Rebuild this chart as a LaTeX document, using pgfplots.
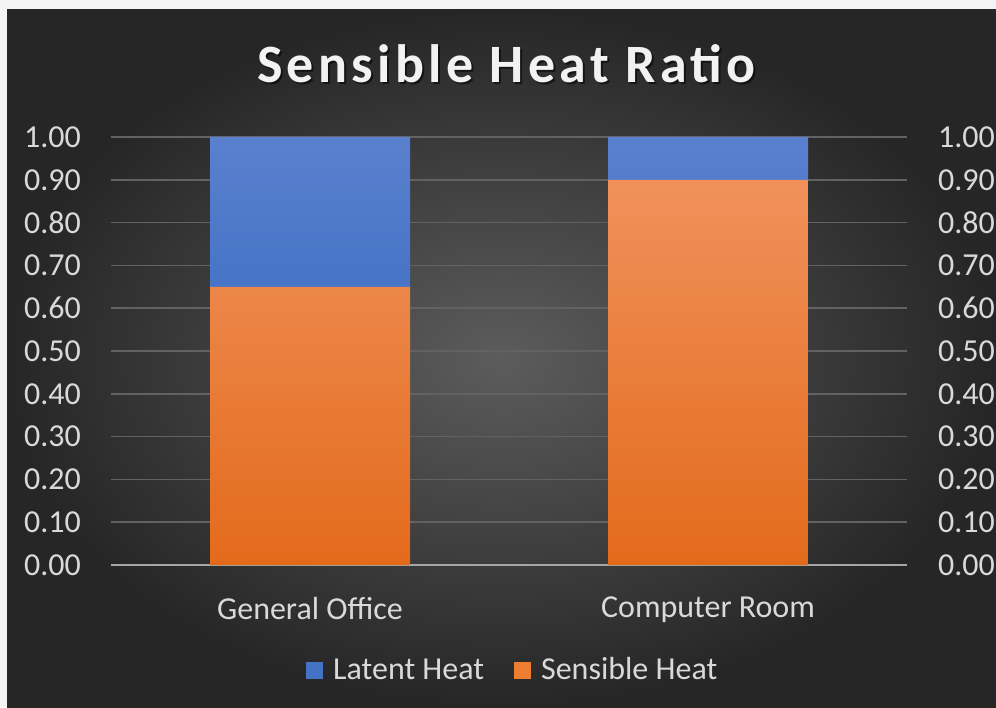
\documentclass[border=0pt]{standalone}
\usepackage{pgfplots}
\pgfplotsset{compat=1.18}
\usepackage{fontspec}
\setmainfont{Carlito}
\newfontfamily\titlefont[LetterSpace=8]{Carlito}
\definecolor{bgdark}{HTML}{262626}
\definecolor{bgmid}{HTML}{5C5C5C}
\definecolor{pagebg}{HTML}{F3F3F3}
\definecolor{gridcol}{HTML}{626262}
\definecolor{axiscol}{HTML}{A6A6A6}
\definecolor{labcol}{HTML}{D9D9D9}
\definecolor{titcol}{HTML}{F2F2F2}
\definecolor{orTop}{HTML}{F0915B}
\definecolor{orBot}{HTML}{E36A1B}
\definecolor{blTop}{HTML}{5A80CE}
\definecolor{blBot}{HTML}{4674C6}
\definecolor{orLeg}{HTML}{ED7D31}
\definecolor{blLeg}{HTML}{4472C4}
\pgfplotstableread{
x sensible latent
0 0.65 0.35
1 0.90 0.10
}\shrdata
\pgfplotsset{
  numfmt/.style={/pgf/number format/fixed, /pgf/number format/fixed zerofill,
    /pgf/number format/precision=2, /pgf/number format/assume math mode=true},
}
\begin{document}
\begin{tikzpicture}[x=1pt,y=1pt]
\fill[pagebg] (0,0) rectangle (498,353.5);
\shade[inner color=bgmid, outer color=bgdark] (3.5,0) rectangle (498,348.5);
\node[anchor=base, text=black, opacity=0.55, inner sep=0] at (254.2,311.0) {\titlefont\bfseries\fontsize{27}{32}\selectfont Sensible Heat Ratio};
\node[anchor=base, text=titcol, inner sep=0] at (253.2,312) {\titlefont\bfseries\fontsize{27}{32}\selectfont Sensible Heat Ratio};
\begin{axis}[
  at={(55.5pt,71pt)}, anchor=south west, scale only axis,
  width=398pt, height=214pt,
  xmin=-0.5, xmax=1.5, ymin=0, ymax=1,
  ybar stacked, bar width=100pt,
  xtick={0,1}, xticklabels={General Office, Computer Room},
  ytick={0,0.1,0.2,0.3,0.4,0.5,0.6,0.7,0.8,0.9,1.0},
  numfmt,
  ticklabel style={font=\fontsize{16}{19}\selectfont, text=labcol},
  yticklabel style={xshift=-11.5pt},
  xticklabel style={yshift=-12.5pt},
  axis line style={draw=none},
  tick style={draw=none},
  ymajorgrids, grid style={gridcol, line width=0.8pt},
  extra y ticks={0}, extra y tick labels={},
  extra y tick style={grid style={axiscol, line width=0.9pt}},
  legend columns=2,
  legend style={at={(0.506,-0.246)}, anchor=center, draw=none, fill=none,
    font=\fontsize{16}{19}\selectfont, text=labcol,
    /tikz/every odd column/.append style={column sep=3pt},
    /tikz/every even column/.append style={column sep=13pt}},
  legend image code/.code={\fill[#1] (0pt,-4.25pt) rectangle (8.5pt,4.25pt);},
]
\addlegendimage{fill=blLeg, draw=none}
\addlegendentry{Latent Heat}
\addlegendimage{fill=orLeg, draw=none}
\addlegendentry{Sensible Heat}
\addplot[draw=none, top color=orTop, bottom color=orBot] table[x=x, y=sensible] {\shrdata};
\addplot[draw=none, top color=blTop, bottom color=blBot] table[x=x, y=latent] {\shrdata};
\end{axis}
\begin{axis}[
  at={(55.5pt,71pt)}, anchor=south west, scale only axis,
  width=398pt, height=214pt,
  xmin=-0.5, xmax=1.5, ymin=0, ymax=1,
  hide x axis, axis line style={draw=none}, tick style={draw=none},
  yticklabel pos=right,
  ytick={0,0.1,0.2,0.3,0.4,0.5,0.6,0.7,0.8,0.9,1.0},
  numfmt,
  ticklabel style={font=\fontsize{16}{19}\selectfont, text=labcol},
  yticklabel style={xshift=12pt, overlay},
]
\end{axis}
\end{tikzpicture}
\end{document}
